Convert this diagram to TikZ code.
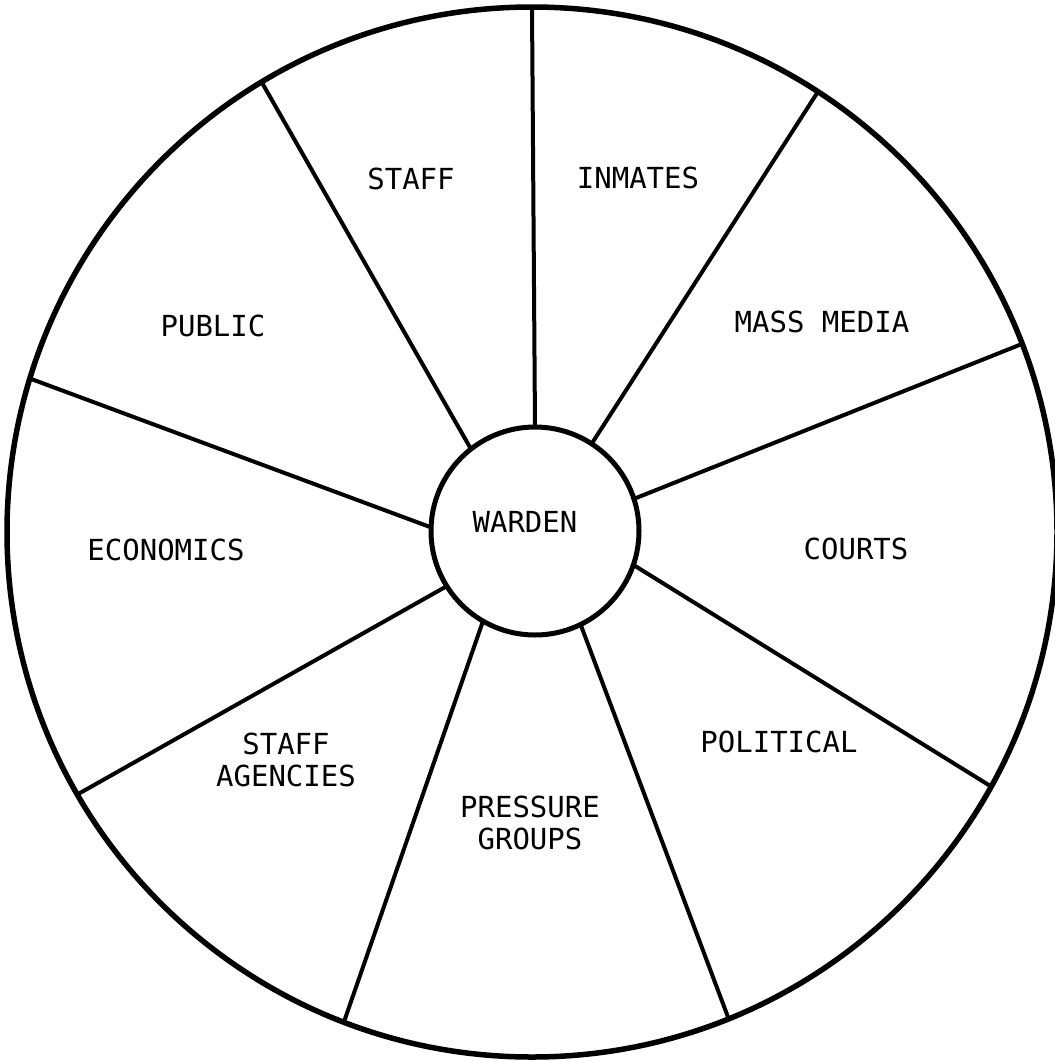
\documentclass[tikz,border=0pt]{standalone}
\usepackage{fontspec}
\newfontfamily\plotfont{DejaVu Sans Mono}
\begin{document}
\begin{tikzpicture}[x=1pt,y=-1pt,
  lbl/.style={font=\plotfont\fontsize{29}{32}\selectfont, inner sep=0, align=center},
  spoke/.style={line width=4pt},
  ring/.style={draw, circle, inner sep=0, outer sep=0}]
\useasboundingbox (0,0) rectangle (1055,1061);
\node[ring, minimum size=1050pt, line width=5.5pt] (rim) at (532,532) {};
\node[ring, minimum size=208pt, line width=5pt] (warden) at (535,531) {};
\node[lbl] (wl) at (525,522) {WARDEN};
% spokes
\draw[spoke] (warden.90)    -- (rim.90.76);
\draw[spoke] (warden.128.9) -- (rim.121.5);
\draw[spoke] (warden.57.5)  -- (rim.57.55);
\draw[spoke] (warden.18.4)  -- (rim.21.68);
\draw[spoke] (warden.-19.3) -- (rim.-29.76);
\draw[spoke] (warden.-64.1) -- (rim.-68.3);
\draw[spoke] (warden.240.6) -- (rim.249.5);
\draw[spoke] (warden.212.8) -- (rim.210.5);
\draw[spoke] (warden.178.3) -- (rim.163.8);
% labels
\node[lbl] (staff)    at (411,179) {STAFF};
\node[lbl] (inmates)  at (638,178) {INMATES};
\node[lbl] (media)    at (822,322) {MASS MEDIA};
\node[lbl] (public)   at (213,326) {PUBLIC};
\node[lbl] (econ)     at (166,550) {ECONOMICS};
\node[lbl] (courts)   at (856,549) {COURTS};
\node[lbl] (agencies) at (286,760) {STAFF\\AGENCIES};
\node[lbl] (pressure) at (530,823) {PRESSURE\\GROUPS};
\node[lbl] (political) at (779,742) {POLITICAL};
\end{tikzpicture}
\end{document}
